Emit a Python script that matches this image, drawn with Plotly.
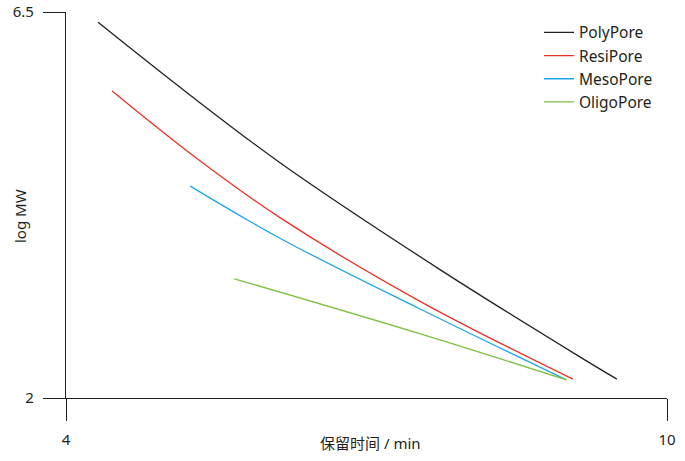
import plotly.graph_objects as go

# Data
poly_x = [4.32, 5.24, 6.14, 7.73, 9.13, 9.50]
poly_y = [6.38, 5.53, 4.74, 3.50, 2.48, 2.22]

resi_x = [4.46, 5.31, 6.14, 7.53, 9.06]
resi_y = [5.58, 4.79, 4.10, 3.13, 2.22]

meso_x = [5.24, 6.14, 7.53, 8.98]
meso_y = [4.47, 3.86, 3.04, 2.22]

oligo_x = [5.68, 7.53, 9.00]
oligo_y = [3.39, 2.75, 2.21]

series_names = ["PolyPore", "ResiPore", "MesoPore", "OligoPore"]
series_colors = ["#231f20", "#ed3224", "#1aa7e8", "#7dc242"]

x_ticks = [4, 10]
y_ticks = [2, 6.5]
x_title = "保留时间 / min"
y_title = "log MW"

FONT = "Noto Sans, Noto Sans CJK SC, sans-serif"
TXT = "#231f20"

fig = go.Figure()
for name, color, xs, ys in zip(series_names, series_colors,
                               [poly_x, resi_x, meso_x, oligo_x],
                               [poly_y, resi_y, meso_y, oligo_y]):
    fig.add_trace(go.Scatter(x=xs, y=ys, mode="lines", name=name,
                             line=dict(color=color, width=1.3, shape="spline", smoothing=1.0)))

axis_common = dict(showgrid=False, zeroline=False, showline=True, linecolor=TXT,
                   linewidth=1.3, ticks="outside", ticklen=22, tickwidth=1.3,
                   tickcolor=TXT, tickfont=dict(size=15, color=TXT, family=FONT),
                   automargin=False, ticklabelstandoff=6, ticklabeloverflow="allow")

fig.update_xaxes(range=[4, 10], tickvals=x_ticks, ticktext=[str(v) for v in x_ticks], **axis_common)
fig.update_yaxes(range=[2, 6.5], tickvals=y_ticks, ticktext=[str(v) for v in y_ticks], **axis_common)

fig.add_annotation(text=x_title, xref="paper", yref="paper", x=0.506, y=-0.1166,
                   xanchor="center", yanchor="middle", showarrow=False,
                   font=dict(size=15, color=TXT, family=FONT))
fig.add_annotation(text=y_title, xref="paper", yref="paper", x=-0.0765, y=0.4715,
                   xanchor="center", yanchor="middle", showarrow=False, textangle=-90,
                   font=dict(size=15, color=TXT, family=FONT))

fig.update_layout(
    width=685, height=461,
    margin=dict(l=66, r=18, t=12, b=63),
    paper_bgcolor="white", plot_bgcolor="white",
    font=dict(family=FONT, size=15, color=TXT),
    showlegend=True,
    legend=dict(x=0.787, y=0.99, xanchor="left", yanchor="top",
                font=dict(size=15.5, color=TXT, family=FONT),
                bgcolor="rgba(0,0,0,0)", itemwidth=30, tracegroupgap=0),
)

# remove the page's default 8px body margin so the figure sits at the window's corner
fig.write_html("out.html", config={"displayModeBar": False},
               post_script="document.body.style.margin='0';")
